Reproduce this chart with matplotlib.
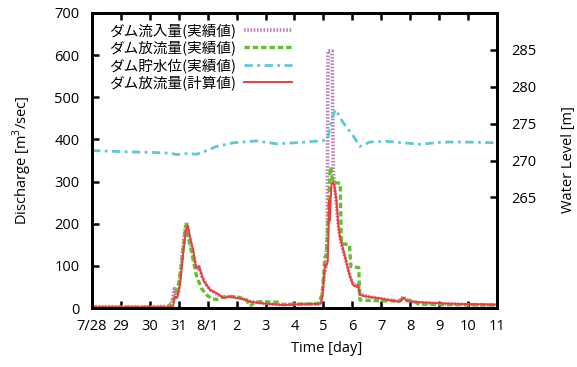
import matplotlib
matplotlib.use("Agg")
import matplotlib.pyplot as plt

plt.rcParams['font.family'] = ['Open Sans', 'Noto Sans CJK JP', 'DejaVu Sans']
plt.rcParams['mathtext.fontset'] = 'custom'
plt.rcParams['mathtext.rm'] = 'Open Sans'

# days since 7/28 00:00
inflow_t = [0, 1, 2, 2.6, 2.75, 2.85, 2.9, 3.0, 3.1, 3.2, 3.27, 3.35, 3.45, 3.55, 3.63, 3.7, 3.8, 3.95,
            4.1, 4.3, 4.55, 4.77, 5.0, 5.25, 5.5, 5.9, 6.5, 7.0, 7.5, 7.9, 7.97, 8.03, 8.08, 8.13, 8.16,
            8.3, 8.34, 8.38, 8.44, 8.5, 8.56, 8.66, 8.8, 8.92, 9.03, 9.15, 9.2, 9.26, 9.5, 9.95, 10.4,
            10.65, 10.76, 10.9, 11.3, 12, 13, 14]
inflow_q = [3, 3, 3, 4, 10, 46, 25, 40, 110, 180, 204, 170, 140, 110, 90, 98, 75, 55,
            43, 34, 25, 28, 25, 21, 15, 11, 8, 9, 9, 10, 40, 80, 95, 180, 610,
            610, 330, 290, 250, 205, 172, 140, 108, 76, 56, 52, 55, 33, 28, 22, 18,
            16, 27, 17, 13, 10, 8, 7]

obs_t = [0, 2.6, 2.7, 2.87, 3.0, 3.1, 3.2, 3.25, 3.32, 3.42, 3.5, 3.6, 3.67, 3.8, 3.96, 4.15, 4.31,
         4.5, 4.65, 5.0, 5.35, 5.45, 5.6, 5.8, 6.4, 6.6, 7.0, 7.8, 7.95, 8.0, 8.05, 8.1, 8.17, 8.23,
         8.26, 8.3, 8.35, 8.58, 8.62, 8.9, 8.95, 9.22, 9.26, 9.6, 10.0, 10.6, 10.76, 10.9, 11.1,
         11.3, 12, 14]
obs_q = [2, 2, 8, 27, 60, 106, 170, 196, 170, 140, 113, 80, 66, 45, 31, 22, 20,
         25, 27, 27, 19, 4, 12, 15, 14, 8, 9, 10, 30, 70, 121, 125, 216, 326,
         334, 310, 298, 296, 153, 150, 98, 96, 19, 18, 17, 17, 22, 19, 17,
         9, 8, 7]

calc_t = [0, 2.7, 2.8, 2.87, 2.95, 3.05, 3.15, 3.25, 3.31, 3.4, 3.5, 3.6, 3.7, 3.85, 4.08, 4.31,
          4.54, 4.77, 5.0, 5.23, 5.46, 5.92, 6.6, 7.2, 7.9, 7.97, 8.0, 8.05, 8.1, 8.15, 8.2, 8.22,
          8.25, 8.28, 8.34, 8.39, 8.46, 8.51, 8.57, 8.69, 8.8, 8.92, 9.03, 9.15, 9.2, 9.26, 9.5,
          9.95, 10.41, 10.65, 10.76, 10.9, 11.5, 12.5, 14]
calc_q = [2, 2, 4, 27, 25, 60, 130, 185, 196, 165, 137, 95, 98, 66, 43, 35,
          24, 27, 24, 21, 15, 11, 7, 9, 10, 30, 58, 102, 100, 110, 255, 208,
          255, 295, 299, 287, 248, 200, 169, 137, 106, 74, 54, 50, 54, 31, 27,
          23, 17, 15, 25, 16, 13, 10, 8]

wl_t = [0, 1.0, 2.0, 2.7, 2.93, 3.3, 3.62, 4.0, 4.3, 4.88, 5.7, 6.38, 7.3, 7.98, 8.15, 8.28, 8.42,
        8.67, 9.02, 9.26, 9.6, 10.18, 11.34, 12.14, 12.95, 14]
wl_h = [271.35, 271.2, 271.1, 271.0, 270.8, 270.95, 270.85, 271.4, 271.9, 272.4, 272.66, 272.26,
        272.47, 272.7, 272.9, 275.6, 276.9, 275.2, 273.4, 271.9, 272.5, 272.6, 272.2, 272.5,
        272.5, 272.4]

x_ticks = list(range(15))
x_labels = ['7/28', '29', '30', '31', '8/1', '2', '3', '4', '5', '6', '7', '8', '9', '10', '11']
y_ticks = [0, 100, 200, 300, 400, 500, 600, 700]
y2_ticks = [265, 270, 275, 280, 285]

labels = ['ダム流入量(実績値)', 'ダム放流量(実績値)', 'ダム貯水位(実績値)', 'ダム放流量(計算値)']

fig = plt.figure(figsize=(5.77, 3.67), dpi=100)
ax = fig.add_axes([92/577, 59/367, 405/577, 295/367])
ax2 = ax.twinx()

fs = 10.5
l1, = ax.plot(inflow_t, inflow_q, color='#b367b3', lw=2.6, ls=(0, (0.45, 0.45)), alpha=0.85)
l2, = ax.plot(obs_t, obs_q, color='#5fc22e', lw=2.4, ls=(0, (1.6, 0.9)))
l4, = ax.plot(calc_t, calc_q, color='#f23a3a', lw=1.4)
l3, = ax2.plot(wl_t, wl_h, color='#5ec8d8', lw=2.0, ls=(0, (3, 1.6, 1, 1.6)))

ax.set_xlim(0, 14)
ax.set_ylim(0, 700)
ax2.set_ylim(250, 290)
ax.set_xticks(x_ticks)
ax.set_xticklabels(x_labels)
ax.set_yticks(y_ticks)
ax2.set_yticks(y2_ticks)

for a in (ax, ax2):
    for s in a.spines.values():
        s.set_linewidth(2.0)
ax.tick_params(axis='x', direction='in', length=5, width=1.8, top=True, labelsize=fs, pad=8)
ax.tick_params(axis='y', direction='in', length=5, width=1.8, right=False, labelsize=fs, pad=9)
ax2.tick_params(axis='y', direction='in', length=5, width=1.8, labelsize=fs, pad=10)

ax.set_xlabel('Time [day]', fontsize=fs)
ax.set_ylabel('Discharge [m$^3$/sec]', fontsize=fs)
ax2.set_ylabel('Water Level [m]', fontsize=fs)
ax.xaxis.set_label_coords((327 - 92) / 405, (308 - 341) / 295)
ax.yaxis.set_label_coords((34 - 92) / 405, (308 - 160) / 295)
ax2.yaxis.set_label_coords((561 - 92) / 405, (308 - 160) / 295)

leg = fig.legend([l1, l2, l3, l4], labels, loc='upper right',
                 bbox_to_anchor=(292/577, (367-23)/367), frameon=False, markerfirst=False,
                 prop={'family': ['Noto Sans CJK JP', 'DejaVu Sans'], 'size': fs},
                 handlelength=3.3, handletextpad=0.5, labelspacing=0.18,
                 borderpad=0, borderaxespad=0)

fig.savefig('out.png', dpi=100)
